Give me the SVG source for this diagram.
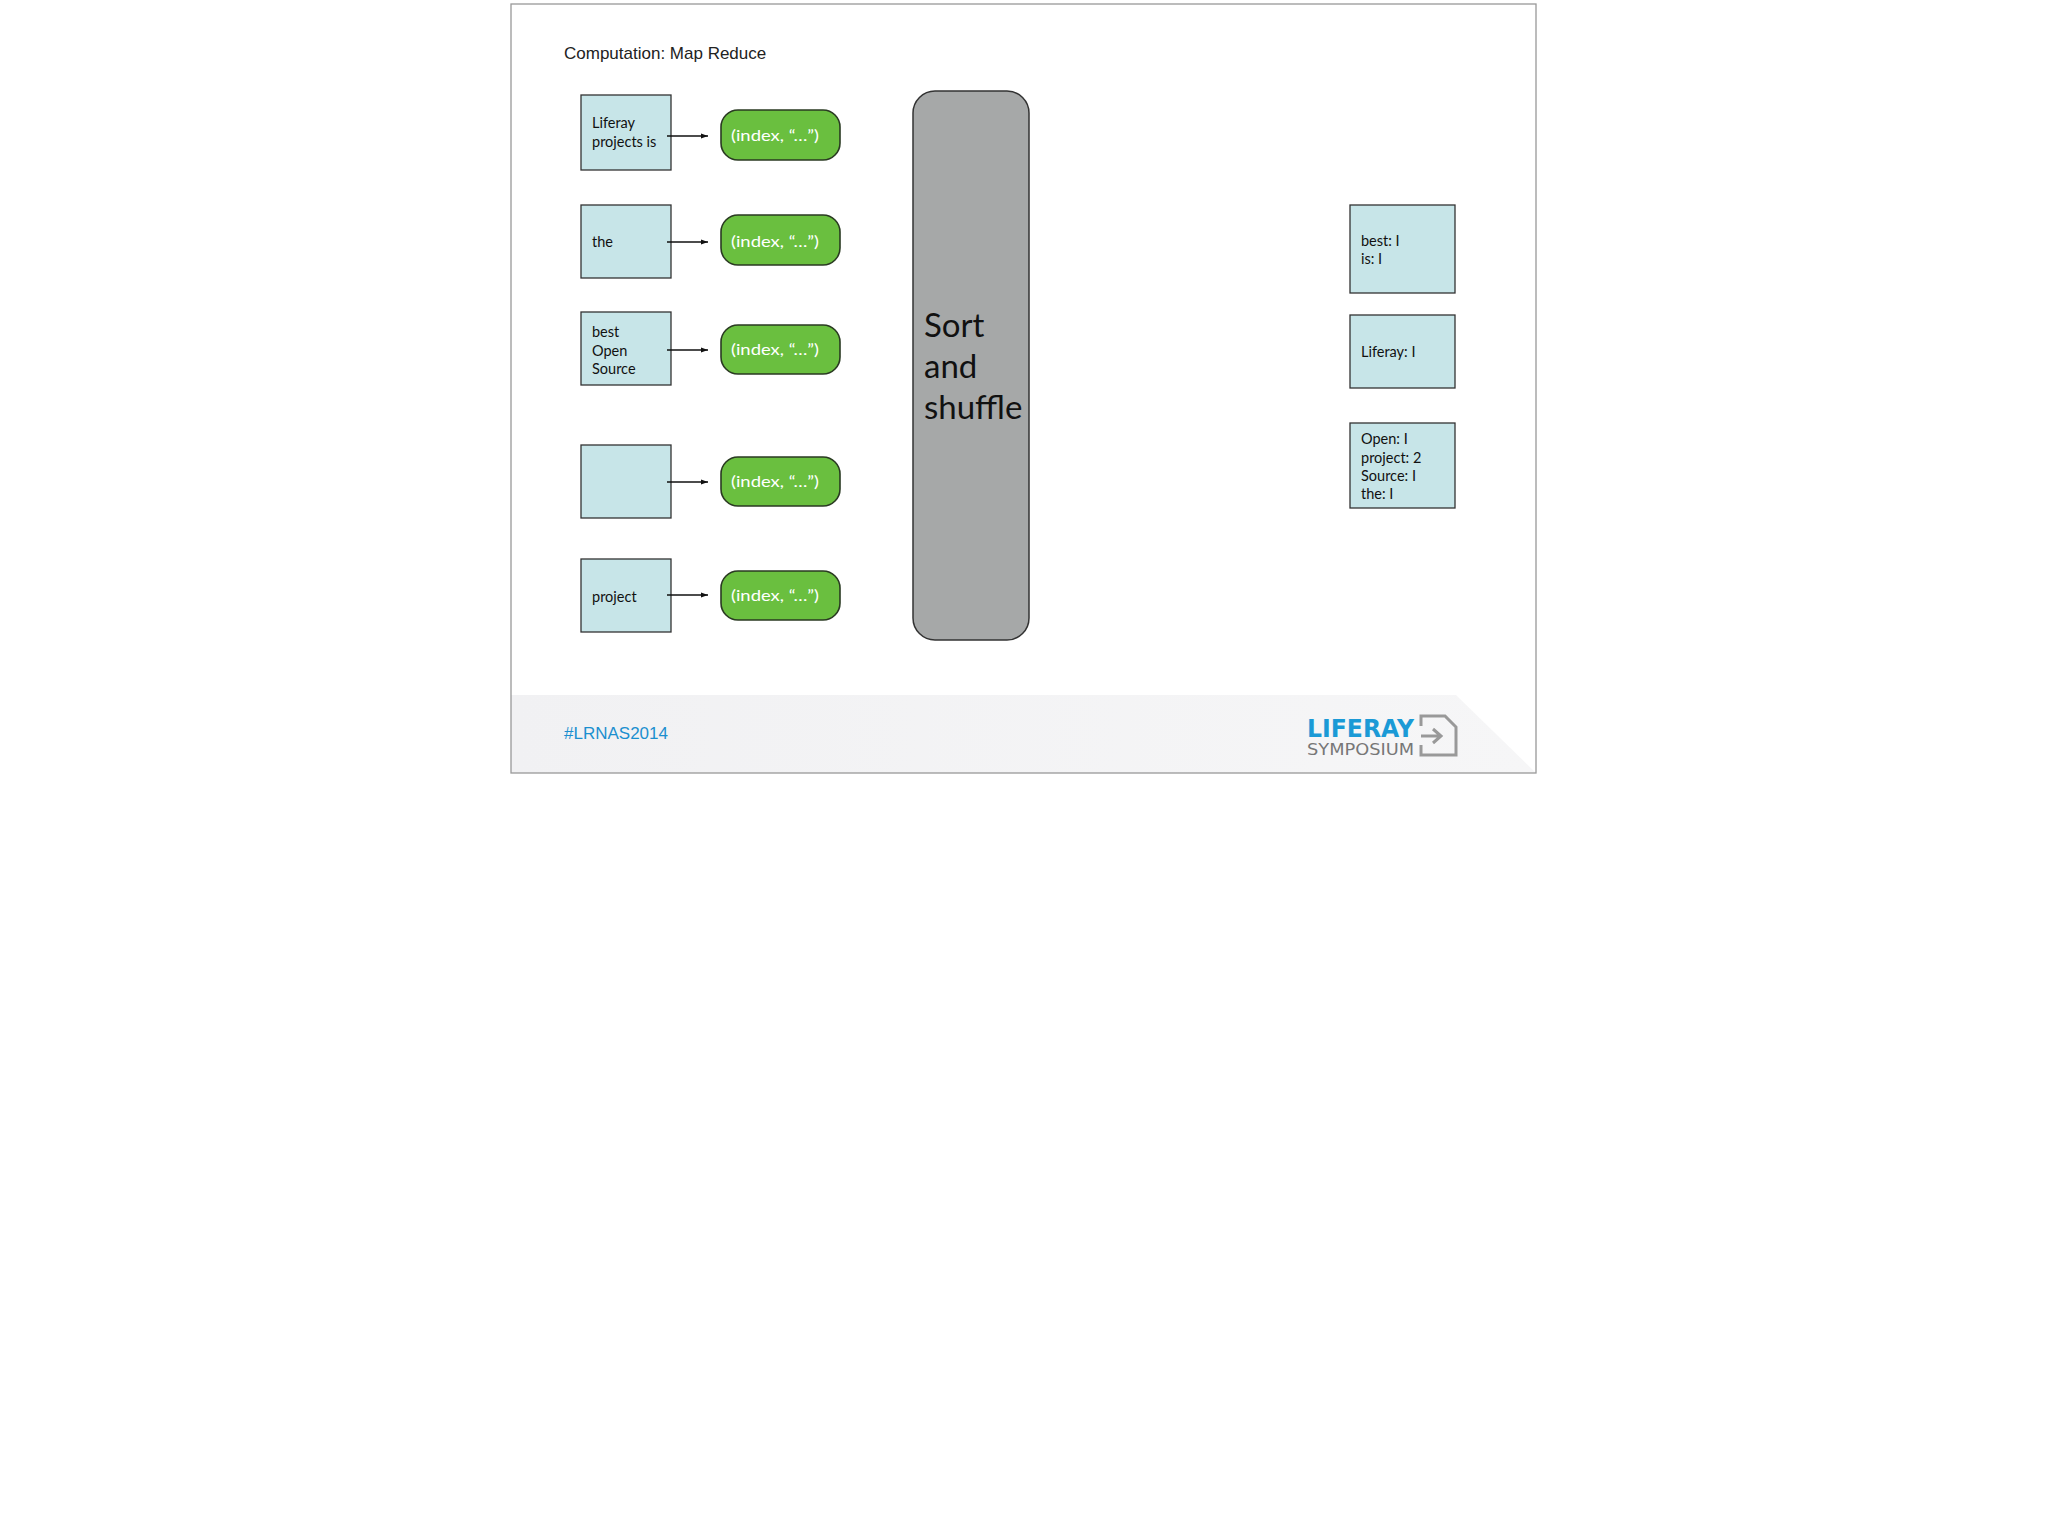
<svg xmlns="http://www.w3.org/2000/svg" width="2048" height="1527" viewBox="0 0 2048 1527">
<defs>
<style>
.in{fill:#c7e5e8;stroke:#333;stroke-width:1.3}
.pill{fill:#6abf3f;stroke:#2a3a22;stroke-width:1.6}
.t{font-family:Lato,"Liberation Sans",sans-serif;font-size:14.5px;fill:#111}
.g{font-family:Lato,"Liberation Sans",sans-serif;font-size:16px;fill:#fff}
.c{stroke:#111;stroke-width:1.3;fill:none}
</style>
<marker id="ah" markerWidth="8" markerHeight="8" refX="7" refY="4" orient="auto" markerUnits="userSpaceOnUse"><path d="M0,1.5 L7,4 L0,6.5z" fill="#111"/></marker>
<linearGradient id="fb" x1="0" y1="0" x2="1" y2="0"><stop offset="0" stop-color="#f1f1f3"/><stop offset="1" stop-color="#f6f6f7"/></linearGradient>
</defs>
<rect width="2048" height="1527" fill="#fff"/>
<path d="M511,695 L1456,695 L1536,773 L511,773z" fill="url(#fb)"/>
<rect x="511" y="4" width="1025" height="769" fill="none" stroke="#999" stroke-width="1.3"/>
<text x="564" y="59" font-family="Liberation Sans,sans-serif" font-size="17" fill="#222">Computation: Map Reduce</text>
<g id="in1"><rect class="in" x="581" y="95" width="90" height="75"/><text class="t" x="592" y="128">Liferay</text><text class="t" x="592" y="147">projects is</text></g>
<g id="in2"><rect class="in" x="581" y="205" width="90" height="73"/><text class="t" x="592" y="247">the</text></g>
<g id="in3"><rect class="in" x="581" y="312" width="90" height="73"/><text class="t" x="592" y="337">best</text><text class="t" x="592" y="356">Open</text><text class="t" x="592" y="374">Source</text></g>
<g id="in4"><rect class="in" x="581" y="445" width="90" height="73"/></g>
<g id="in5"><rect class="in" x="581" y="559" width="90" height="73"/><text class="t" x="592" y="602">project</text></g>
<g id="m1"><rect class="pill" x="721" y="110" width="119" height="50" rx="17"/><text class="g" x="731" y="141" textLength="88" lengthAdjust="spacingAndGlyphs">(index, “…”)</text></g>
<g id="m2"><rect class="pill" x="721" y="215" width="119" height="50" rx="17"/><text class="g" x="731" y="247" textLength="88" lengthAdjust="spacingAndGlyphs">(index, “…”)</text></g>
<g id="m3"><rect class="pill" x="721" y="325" width="119" height="49" rx="17"/><text class="g" x="731" y="355" textLength="88" lengthAdjust="spacingAndGlyphs">(index, “…”)</text></g>
<g id="m4"><rect class="pill" x="721" y="457" width="119" height="49" rx="17"/><text class="g" x="731" y="487" textLength="88" lengthAdjust="spacingAndGlyphs">(index, “…”)</text></g>
<g id="m5"><rect class="pill" x="721" y="571" width="119" height="49" rx="17"/><text class="g" x="731" y="601" textLength="88" lengthAdjust="spacingAndGlyphs">(index, “…”)</text></g>
<g id="sort"><rect x="913" y="91" width="116" height="549" rx="22" fill="#a6a8a8" stroke="#333" stroke-width="1.5"/>
<text font-family="Lato,'Liberation Sans',sans-serif" font-size="33" fill="#111"><tspan x="924" y="337">Sort</tspan><tspan x="924" y="378">and</tspan><tspan x="924" y="419">shuffle</tspan></text></g>
<g id="r1"><rect class="in" x="1350" y="205" width="105" height="88"/><text class="t" x="1361" y="246">best: I</text><text class="t" x="1361" y="264">is: I</text></g>
<g id="r2"><rect class="in" x="1350" y="315" width="105" height="73"/><text class="t" x="1361" y="357">Liferay: I</text></g>
<g id="r3"><rect class="in" x="1350" y="423" width="105" height="85"/><text class="t" x="1361" y="444">Open: I</text><text class="t" x="1361" y="463">project: 2</text><text class="t" x="1361" y="481">Source: I</text><text class="t" x="1361" y="499">the: I</text></g>
<g id="connectors">
<line class="c" x1="667" y1="136" x2="708" y2="136" marker-end="url(#ah)"/>
<line class="c" x1="667" y1="242" x2="708" y2="242" marker-end="url(#ah)"/>
<line class="c" x1="667" y1="350" x2="708" y2="350" marker-end="url(#ah)"/>
<line class="c" x1="667" y1="482" x2="708" y2="482" marker-end="url(#ah)"/>
<line class="c" x1="667" y1="595" x2="708" y2="595" marker-end="url(#ah)"/>
</g>
<text x="564" y="739" font-family="Liberation Sans,sans-serif" font-size="17" fill="#1b8fcf">#LRNAS2014</text>
<text x="1307" y="737" font-family="'DejaVu Sans',sans-serif" font-weight="bold" font-size="25" fill="#1b9ad6" textLength="107" lengthAdjust="spacingAndGlyphs">LIFERAY</text>
<text x="1307" y="755" font-family="'DejaVu Sans',sans-serif" font-size="16" fill="#777" textLength="107" lengthAdjust="spacingAndGlyphs">SYMPOSIUM</text>
<path d="M1421,726 L1421,716 L1445,716 L1456,727 L1456,755 L1421,755 L1421,745 M1421,736 L1440,736 M1433,729 L1441,736 L1433,743" fill="none" stroke="#999" stroke-width="3"/>
</svg>
